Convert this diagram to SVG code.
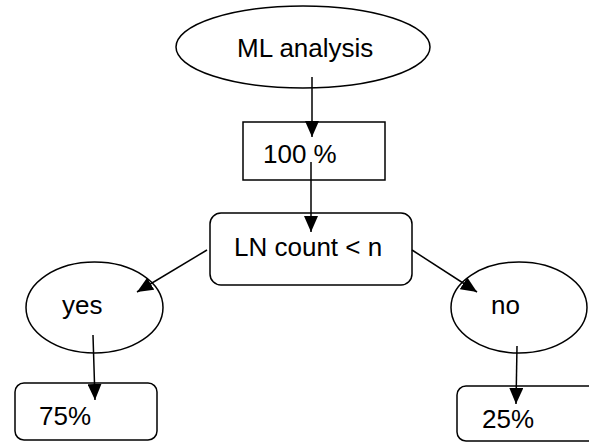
<svg xmlns="http://www.w3.org/2000/svg" width="589" height="445" viewBox="0 0 589 445">
<style>
.n{fill:#fff;stroke:#000;stroke-width:1.5}
.t{font-family:"Liberation Sans",Arial,sans-serif;font-size:26px;fill:#000}
.c{stroke:#000;stroke-width:1.5;fill:none;marker-end:url(#ah)}
</style>
<defs>
<marker id="ah" markerUnits="userSpaceOnUse" markerWidth="16" markerHeight="14" refX="16" refY="7" orient="auto" viewBox="0 0 16 14">
<path d="M0,0 L16,7 L0,14 z" fill="#000"/>
</marker>
</defs>
<g id="ml"><ellipse class="n" cx="303" cy="47" rx="127" ry="41"/><text class="t" x="237" y="57">ML analysis</text></g>
<g id="p100"><rect class="n" x="243" y="122" width="142" height="58"/><text class="t" x="263" y="163">100 %</text></g>
<g id="ln"><rect class="n" x="210" y="213" width="202" height="72" rx="11"/><text class="t" x="234" y="256">LN count &lt; n</text></g>
<g id="yes"><ellipse class="n" cx="94.5" cy="307.5" rx="68.5" ry="45.5"/><text class="t" x="62" y="314">yes</text></g>
<g id="no"><ellipse class="n" cx="519" cy="307.5" rx="68" ry="45.5"/><text class="t" x="491" y="314">no</text></g>
<g id="p75"><rect class="n" x="15" y="383" width="142" height="57" rx="9"/><text class="t" x="39" y="425">75%</text></g>
<g id="p25"><rect class="n" x="457" y="386" width="150" height="55" rx="9"/><text class="t" x="482" y="428">25%</text></g>
<g id="connectors">
<line class="c" x1="312" y1="77" x2="312" y2="137"/>
<line class="c" x1="311" y1="162" x2="311" y2="232"/>
<line class="c" x1="207" y1="250" x2="137" y2="292"/>
<line class="c" x1="93" y1="335" x2="95" y2="400"/>
<line class="c" x1="412" y1="250" x2="477" y2="292"/>
<line class="c" x1="517" y1="346" x2="516" y2="404"/>
</g>
</svg>
